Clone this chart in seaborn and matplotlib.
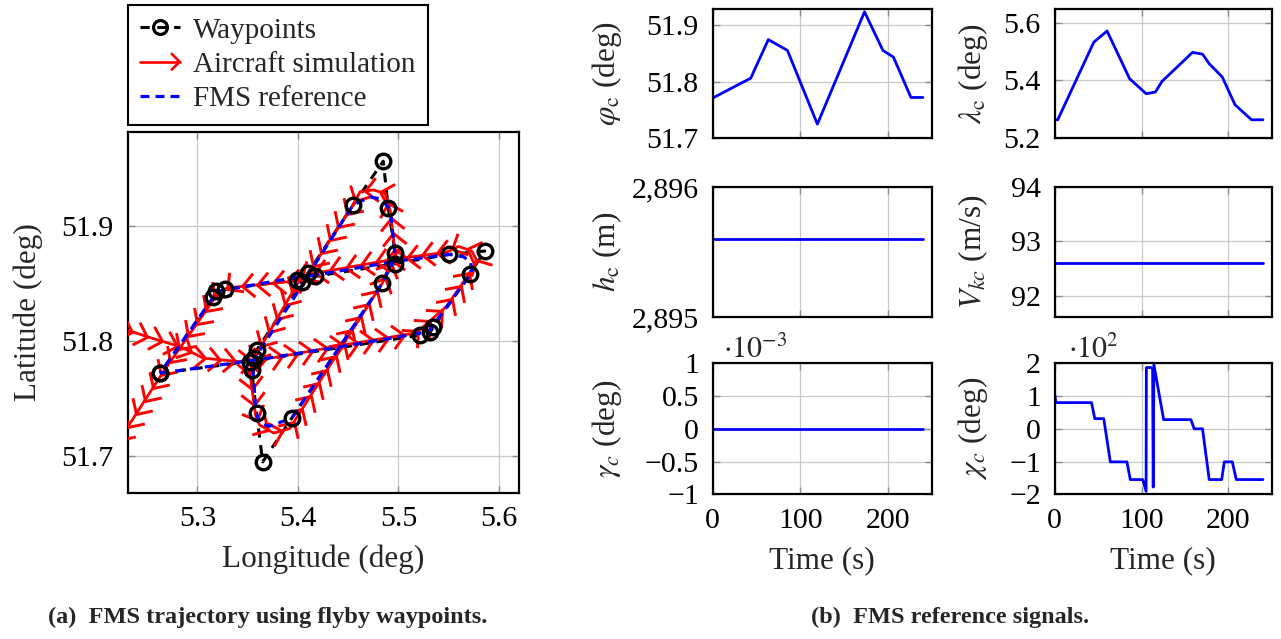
import numpy as np
import matplotlib
matplotlib.use("Agg")
import matplotlib.pyplot as plt
import seaborn as sns
from matplotlib.path import Path
from matplotlib.markers import MarkerStyle
from matplotlib.transforms import Affine2D
from matplotlib.lines import Line2D
from matplotlib.legend_handler import HandlerBase

# ---------------- data: left panel (trajectory) ----------------
wp_lon = [5.263, 5.352, 5.522, 5.532, 5.535, 5.571, 5.586, 5.550, 5.497, 5.417,
          5.410, 5.359, 5.356, 5.354, 5.359, 5.365, 5.394, 5.484, 5.497, 5.490,
          5.485, 5.455, 5.404, 5.399, 5.328, 5.319, 5.316, 5.263]
wp_lat = [51.772, 51.782, 51.805, 51.808, 51.812, 51.858, 51.878, 51.875, 51.867, 51.856,
          51.859, 51.792, 51.785, 51.775, 51.737, 51.695, 51.733, 51.850, 51.876, 51.915,
          51.956, 51.918, 51.851, 51.853, 51.845, 51.843, 51.838, 51.772]

fms_lon = [5.263, 5.355, 5.450, 5.530, 5.573, 5.572, 5.565, 5.551, 5.497, 5.410,
           5.355, 5.358, 5.362, 5.372, 5.394, 5.484, 5.497, 5.492, 5.483, 5.472,
           5.455, 5.410, 5.320, 5.263]
fms_lat = [51.772, 51.783, 51.796, 51.808, 51.859, 51.868, 51.873, 51.875, 51.869, 51.856,
           51.782, 51.740, 51.728, 51.726, 51.733, 51.850, 51.872, 51.914, 51.923, 51.925,
           51.918, 51.857, 51.843, 51.772]

sim_lon = [5.215, 5.235, 5.256, 5.283, 5.306, 5.342, 5.380, 5.450, 5.518, 5.548,
           5.571, 5.578, 5.573, 5.560, 5.548, 5.497, 5.412, 5.401, 5.360, 5.352,
           5.358, 5.362, 5.376, 5.392, 5.400, 5.484, 5.497, 5.492, 5.487, 5.475,
           5.462, 5.455, 5.410, 5.398, 5.330, 5.318, 5.266, 5.215]
sim_lat = [51.811, 51.808, 51.802, 51.795, 51.785, 51.782, 51.786, 51.797, 51.807, 51.830,
           51.859, 51.870, 51.878, 51.882, 51.877, 51.871, 51.858, 51.852, 51.790, 51.774,
           51.735, 51.727, 51.720, 51.724, 51.735, 51.850, 51.875, 51.913, 51.928, 51.931,
           51.9295, 51.918, 51.858, 51.852, 51.846, 51.838, 51.773, 51.704]

lon_ticks = [5.3, 5.4, 5.5, 5.6]
lat_ticks = [51.7, 51.8, 51.9]

# ---------------- data: right panels (reference signals) ----------------
phi_t = [0, 43.4, 63.5, 85.3, 119.5, 173.3, 194.3, 206.4, 226.3, 240]
phi_v = [51.771, 51.806, 51.874, 51.855, 51.725, 51.923, 51.855, 51.843, 51.772, 51.772]

lam_t = [0, 3.5, 45, 60.3, 86.3, 105.4, 116, 123.7, 158.8, 170.3, 178, 193, 207.7, 226.8, 240]
lam_v = [5.264, 5.264, 5.532, 5.571, 5.406, 5.354, 5.360, 5.397, 5.497, 5.491, 5.458,
         5.412, 5.316, 5.264, 5.264]

h_t = [0, 240]
h_v = [2895.6, 2895.6]

vk_t = [0, 240]
vk_v = [92.6, 92.6]

gam_t = [0, 240]
gam_v = [0.0, 0.0]

chi_t = [0, 1.5, 42.4, 46.2, 56.5, 64.1, 83.2, 87.1, 101.5, 105.3, 105.6, 111, 112.8,
         113.5, 114.3, 125.5, 156.9, 160.7, 170.3, 178, 192.4, 195.4, 204.6, 209.2, 240]
chi_v = [105, 80, 80, 31, 31, -101, -101, -155, -155, -191, 187, 187, 182,
         -178, 196, 28, 28, 0, 0, -155, -155, -101, -101, -155, -155]

time_ticks = [0, 100, 200]
phi_ticks = [51.7, 51.8, 51.9]
lam_ticks = [5.2, 5.4, 5.6]
h_ticks = [2895, 2896]
h_tick_labels = ["2,895", "2,896"]
vk_ticks = [92, 93, 94]
gam_ticks = [-1e-3, -0.5e-3, 0, 0.5e-3, 1e-3]
gam_tick_labels = ["\u22121", "\u22120.5", "0", "0.5", "1"]
chi_ticks = [-200, -100, 0, 100, 200]
chi_tick_labels = ["\u22122", "\u22121", "0", "1", "2"]

# ---------------- style ----------------
sns.set_theme(style="whitegrid")
plt.rcParams.update({
    "font.family": ["Liberation Serif", "DejaVu Serif"],
    "mathtext.fontset": "stix",
    "axes.unicode_minus": True,
    "axes.edgecolor": "black",
    "axes.linewidth": 1.6,
    "grid.color": "#c8c8c8",
    "grid.linewidth": 0.9,
    "axes.facecolor": "white",
})

FS = 21.5      # tick labels
FL = 22.5      # axis labels
W, H = 1281, 639
fig = plt.figure(figsize=(W / 100, H / 100), dpi=100)


def rect(x0, y0, x1, y1):
    return [x0 / W, 1 - y1 / H, (x1 - x0) / W, (y1 - y0) / H]


def style_axes(ax):
    ax.set_axisbelow(True)
    ax.grid(True)
    for s in ax.spines.values():
        s.set_color("black")
        s.set_linewidth(1.6)
    ax.tick_params(direction="in", length=5, width=1, color="#8a8a8a",
                   top=True, right=True, bottom=True, left=True,
                   labelsize=FS, pad=10, labelcolor="black")


# ---------------- left panel ----------------
axL = fig.add_axes(rect(127.5, 132, 518.5, 492.5))
style_axes(axL)
axL.set_xlim(5.2305, 5.6196)
axL.set_ylim(51.6684, 51.9813)
axL.set_xticks(lon_ticks, [f"{v:.1f}" for v in lon_ticks])
axL.set_yticks(lat_ticks, [f"{v:.1f}" for v in lat_ticks])
axL.set_xlabel("Longitude (deg)", fontsize=FL)
axL.set_ylabel("Latitude (deg)", fontsize=FL)
axL.xaxis.set_label_coords(0.5, -0.145)
axL.yaxis.set_label_coords(-0.215, 0.5)

axL.plot(wp_lon, wp_lat, color="black", lw=2.2, ls=(0, (3, 2.5)), zorder=2)
sns.lineplot(x=sim_lon, y=sim_lat, sort=False, estimator=None, color="red",
             lw=2.0, ax=axL, zorder=3)
axL.plot(fms_lon, fms_lat, color="blue", lw=2.3, ls=(0, (2.8, 1.9)), zorder=4)
axL.plot(wp_lon, wp_lat, ls="none", marker="o", ms=10.5, mfc="none", mec="black",
         mew=2.4, zorder=5)

# chevron decorations along the simulated path
chev_path = Path([(-1, 1.0), (0, 0), (-1, -1.0)],
                 [Path.MOVETO, Path.LINETO, Path.LINETO])
pts = axL.transData.transform(np.column_stack([sim_lon, sim_lat]))
seg = np.diff(pts, axis=0)
seglen = np.hypot(seg[:, 0], seg[:, 1])
cum = np.concatenate([[0], np.cumsum(seglen)])
inv = axL.transData.inverted()
for s in np.arange(5, cum[-1], 15.5):
    i = int(min(np.searchsorted(cum, s, side="right") - 1, len(seglen) - 1))
    f = (s - cum[i]) / seglen[i]
    p = pts[i] + f * seg[i]
    ang = np.degrees(np.arctan2(seg[i, 1], seg[i, 0]))
    d = inv.transform(p)
    ms = MarkerStyle(chev_path, fillstyle="none",
                     transform=Affine2D().rotate_deg(ang))
    axL.plot([d[0]], [d[1]], marker=ms, ms=17, mew=2.1, color="red",
             ls="none", zorder=3)


# legend
class HandlerArrowLine(HandlerBase):
    def create_artists(self, legend, orig_handle, xdescent, ydescent, width,
                       height, fontsize, trans):
        y = height / 2.0 - ydescent
        x0, x1 = -xdescent, width - xdescent
        hw = 0.27 * fontsize
        line = Line2D([x0, x1], [y, y], color="red", lw=1.9)
        head = Line2D([x1 - hw, x1, x1 - hw], [y + hw, y, y - hw], color="red", lw=1.9)
        line.set_transform(trans)
        head.set_transform(trans)
        return [line, head]


h_wp = Line2D([], [], color="black", lw=2.2, ls=(0, (3, 2.5)), marker="o", ms=10,
              mfc="none", mec="black", mew=2.3)
h_sim = Line2D([], [], color="red")
h_fms = Line2D([], [], color="blue", lw=2.3, ls=(0, (2.8, 1.9)))
leg = fig.legend([h_wp, h_sim, h_fms], ["Waypoints", "Aircraft simulation", "FMS reference"],
                 handler_map={h_sim: HandlerArrowLine()},
                 loc="upper left", bbox_to_anchor=(128 / W, 1 - 5 / H),
                 frameon=True, fancybox=False, edgecolor="black", framealpha=1,
                 fontsize=21, borderpad=0.42, handlelength=1.35, handletextpad=0.45,
                 labelspacing=0.27, borderaxespad=0, numpoints=1)
leg.get_frame().set_linewidth(1.5)

# ---------------- right panels ----------------
cols = [(712.7, 931.7), (1054.7, 1271.7)]
rows = [(9, 138.3), (187, 317), (363.3, 494.3)]

panels = [
    (0, 0, phi_t, phi_v, phi_ticks, [f"{v:.1f}" for v in phi_ticks], (51.7, 51.928),
     r"$\varphi_\mathrm{c}$ (deg)"),
    (0, 1, lam_t, lam_v, lam_ticks, [f"{v:.1f}" for v in lam_ticks], (5.2, 5.647),
     r"$\lambda_\mathrm{c}$ (deg)"),
    (1, 0, h_t, h_v, h_ticks, h_tick_labels, (2895, 2896), r"$h_\mathrm{c}$ (m)"),
    (1, 1, vk_t, vk_v, vk_ticks, [str(v) for v in vk_ticks], (91.61, 94.0),
     r"$V_{kc}$ (m/s)"),
    (2, 0, gam_t, gam_v, gam_ticks, gam_tick_labels, (-1e-3, 1e-3), r"$\gamma_c$ (deg)"),
    (2, 1, chi_t, chi_v, chi_ticks, chi_tick_labels, (-200, 200), r"$\chi_c$ (deg)"),
]

for r, c, t, v, yt, ytl, ylim, lab in panels:
    x0, x1 = cols[c]
    y0, y1 = rows[r]
    ax = fig.add_axes(rect(x0, y0, x1, y1))
    style_axes(ax)
    sns.lineplot(x=t, y=v, sort=False, estimator=None, color="blue", lw=2.0, ax=ax)
    ax.set_xlim(0, 250)
    ax.set_ylim(*ylim)
    ax.set_yticks(yt, ytl)
    if r == 2:
        ax.set_xticks(time_ticks, [str(v) for v in time_ticks])
        ax.set_xlabel("Time (s)", fontsize=FL)
        ax.xaxis.set_label_coords(0.5, -0.395)
    else:
        ax.set_xticks(time_ticks, [])
        ax.set_xlabel("")
    ax.set_ylabel(lab, fontsize=FL)
    ax.yaxis.set_label_coords(-0.405 if c == 0 else -0.298, 0.5)
    if r == 2 and c == 0:
        ax.text(0.047, 1.04, r"$\cdot 10^{-3}$", transform=ax.transAxes,
                ha="left", va="baseline", fontsize=FS)
    if r == 2 and c == 1:
        ax.text(0.061, 1.04, r"$\cdot 10^{2}$", transform=ax.transAxes,
                ha="left", va="baseline", fontsize=FS)

# ---------------- captions ----------------
fig.text(267.5 / W, 1 - 617 / H, "(a)  FMS trajectory using flyby waypoints.",
         ha="center", va="center", fontsize=17.5, fontweight="bold")
fig.text(950 / W, 1 - 617 / H, "(b)  FMS reference signals.",
         ha="center", va="center", fontsize=17.5, fontweight="bold")

fig.savefig("out.png", dpi=100)
